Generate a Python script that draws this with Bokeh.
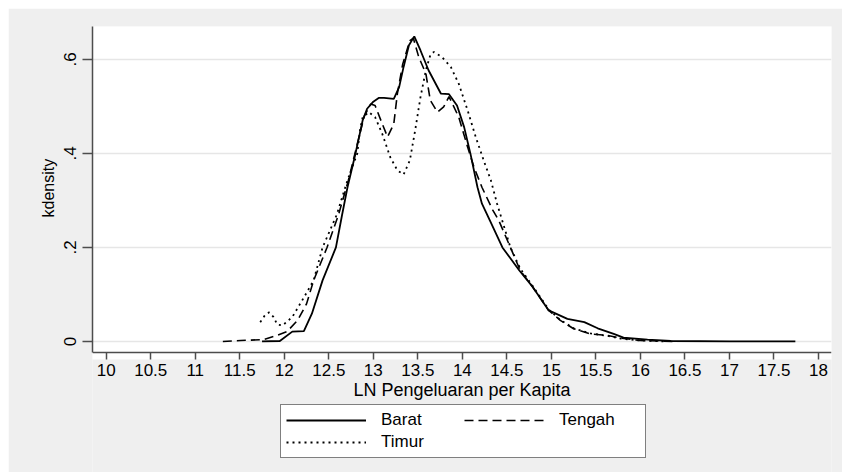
from bokeh.plotting import figure
from bokeh.models import FixedTicker, Legend, LegendItem, BoxAnnotation, Range1d, Title
from bokeh.embed import file_html
from bokeh.resources import INLINE

# ---- data ----
barat_x = [11.75, 11.95, 12.09, 12.22, 12.31, 12.43, 12.58, 12.65, 12.71, 12.80, 12.88, 12.93, 13.00,
           13.06, 13.12, 13.23, 13.29, 13.34, 13.40, 13.46, 13.53, 13.62, 13.76, 13.85, 13.94, 14.02,
           14.09, 14.17, 14.22, 14.31, 14.45, 14.64, 14.79, 14.97, 15.18, 15.37, 15.52, 15.70, 15.81,
           16.08, 16.34, 17.00, 17.74]
barat_y = [0.0, 0.001, 0.021, 0.022, 0.059, 0.13, 0.20, 0.27, 0.328, 0.40, 0.47, 0.495, 0.51,
           0.518, 0.518, 0.516, 0.541, 0.584, 0.63, 0.649, 0.619, 0.577, 0.527, 0.526, 0.502, 0.456,
           0.40, 0.328, 0.293, 0.257, 0.20, 0.151, 0.116, 0.066, 0.048, 0.041, 0.028, 0.016, 0.008,
           0.004, 0.001, 0.0, 0.0]

tengah_x = [11.31, 11.51, 11.77, 11.92, 12.03, 12.15, 12.25, 12.33, 12.48, 12.61, 12.72, 12.82, 12.90,
            12.97, 13.02, 13.10, 13.16, 13.23, 13.27, 13.33, 13.41, 13.45, 13.51, 13.59, 13.64, 13.72,
            13.79, 13.85, 13.96, 14.06, 14.13, 14.22, 14.34, 14.41, 14.54, 14.65, 14.79, 14.97, 15.10,
            15.25, 15.44, 15.63, 15.78, 16.00, 16.36]
tengah_y = [0.0, 0.002, 0.004, 0.013, 0.021, 0.045, 0.08, 0.13, 0.20, 0.27, 0.343, 0.42, 0.48,
            0.505, 0.502, 0.463, 0.435, 0.463, 0.527, 0.59, 0.64, 0.645, 0.605, 0.57, 0.513, 0.488,
            0.499, 0.521, 0.477, 0.413, 0.371, 0.328, 0.28, 0.257, 0.20, 0.151, 0.116, 0.066, 0.045,
            0.027, 0.016, 0.013, 0.007, 0.002, 0.0]

timur_x = [11.73, 11.78, 11.83, 11.88, 11.92, 11.98, 12.09, 12.20, 12.33, 12.43, 12.59, 12.71, 12.82,
           12.85, 12.88, 12.95, 13.02, 13.10, 13.19, 13.27, 13.34, 13.41, 13.47, 13.53, 13.59, 13.64,
           13.68, 13.77, 13.87, 13.96, 14.06, 14.15, 14.24, 14.32, 14.39, 14.54, 14.65, 14.79, 14.97,
           15.10, 15.25, 15.44, 15.63, 15.78, 16.00, 16.30]
timur_y = [0.041, 0.055, 0.062, 0.052, 0.036, 0.034, 0.052, 0.087, 0.13, 0.20, 0.27, 0.343, 0.40,
           0.449, 0.477, 0.488, 0.477, 0.442, 0.392, 0.364, 0.355, 0.385, 0.449, 0.52, 0.577, 0.609,
           0.616, 0.605, 0.584, 0.548, 0.491, 0.435, 0.385, 0.343, 0.293, 0.20, 0.155, 0.118, 0.068,
           0.046, 0.028, 0.017, 0.012, 0.006, 0.002, 0.0]

series_names = ["Barat", "Tengah", "Timur"]

x_ticks = [10, 10.5, 11, 11.5, 12, 12.5, 13, 13.5, 14, 14.5, 15, 15.5, 16, 16.5, 17, 17.5, 18]
x_tick_labels = ["10", "10.5", "11", "11.5", "12", "12.5", "13", "13.5", "14", "14.5", "15",
                 "15.5", "16", "16.5", "17", "17.5", "18"]
y_ticks = [0, 0.2, 0.4, 0.6]
y_tick_labels = ["0", ".2", ".4", ".6"]

x_title = "LN Pengeluaran per Kapita"
y_title = "kdensity"

# ---- figure ----
FONT = "Liberation Sans"
GRAY = "#efefef"
AX = "#4d4d4d"

FRAME_W, FRAME_H = 739, 446      # frame reaches the bottom so the legend fits inside it
PX_PER_Y = 470.1                 # vertical scale (pixels per density unit)
x0, x1 = 9.846, 18.146           # x extent of the axis box
ya, y1 = -0.0234, 0.670          # y extent of the axis box
y0 = y1 - FRAME_H / PX_PER_Y     # frame bottom (below the x axis)

p = figure(frame_width=FRAME_W, frame_height=FRAME_H, x_range=Range1d(x0, x1), y_range=Range1d(y0, y1),
           output_backend="svg", toolbar_location=None,
           min_border_left=84, min_border_right=11, min_border_top=18, min_border_bottom=0,
           border_fill_color=GRAY, background_fill_color=GRAY, outline_line_color=None)
p.margin = (8, 0, 0, 8)

# white plot region slightly larger than the axis box
xs = (x1 - x0) / FRAME_W
ys = 1.0 / PX_PER_Y
p.add_layout(BoxAnnotation(left=x0 - 13 * xs, right=x1 + 1 * xs, bottom=ya - 7 * ys, top=y1 + 10 * ys,
                           fill_color="white", fill_alpha=1.0, line_color=None, level="image"))

r1 = p.line(barat_x, barat_y, line_color="black", line_width=1.8)
r2 = p.line(tengah_x, tengah_y, line_color="black", line_width=1.6, line_dash="9 5")
r3 = p.line(timur_x, timur_y, line_color="black", line_width=1.8, line_dash="2 4")

# axes
p.xaxis.fixed_location = ya
p.yaxis.bounds = (ya, y1)
p.xaxis.ticker = FixedTicker(ticks=x_ticks)
p.xaxis.major_label_overrides = {t: l for t, l in zip(x_ticks, x_tick_labels)}
p.yaxis.ticker = FixedTicker(ticks=y_ticks)
p.yaxis.major_label_overrides = {t: l for t, l in zip(y_ticks, y_tick_labels)}
p.yaxis.major_label_orientation = "vertical"

p.xaxis.axis_label = x_title

for ax in (p.xaxis, p.yaxis):
    ax.axis_line_color = AX
    ax.axis_line_width = 1.5
    ax.major_tick_line_color = AX
    ax.major_tick_line_width = 1.5
    ax.major_tick_in = 0
    ax.minor_tick_line_color = None
    ax.major_label_text_font = FONT
    ax.major_label_text_color = "black"
    ax.axis_label_text_font = FONT
    ax.axis_label_text_font_style = "normal"
    ax.axis_label_text_color = "black"

p.xaxis.major_tick_out = 7
p.yaxis.major_tick_out = 10
p.xaxis.major_label_text_font_size = "17px"
p.yaxis.major_label_text_font_size = "17px"
p.xaxis.axis_label_text_font_size = "18px"
p.xaxis.major_label_standoff = 5
p.yaxis.major_label_standoff = 6
p.xaxis.axis_label_standoff = 0

# y axis title, centred on the axis line (not on the taller frame)
p.add_layout(Title(text=y_title, align="left", offset=255, standoff=10,
                   text_font=FONT, text_font_size="16px", text_font_style="normal",
                   text_color="black"), "left")

p.xgrid.grid_line_color = None
p.ygrid.grid_line_color = "#e6e6e6"
p.ygrid.grid_line_width = 1.5

legend = Legend(items=[LegendItem(label=series_names[0], renderers=[r1]),
                       LegendItem(label=series_names[1], renderers=[r2]),
                       LegendItem(label=series_names[2], renderers=[r3])],
                orientation="horizontal", ncols=2, location=(188, 14), margin=0,
                glyph_width=80, glyph_height=18, label_height=18, label_standoff=15, label_width=81,
                spacing=2, padding=5, border_line_color="black", border_line_width=1,
                background_fill_color="white", background_fill_alpha=1.0,
                label_text_font=FONT, label_text_font_size="17px", label_text_color="black")
p.add_layout(legend)

open("out.html", "w").write(file_html(p, INLINE))
